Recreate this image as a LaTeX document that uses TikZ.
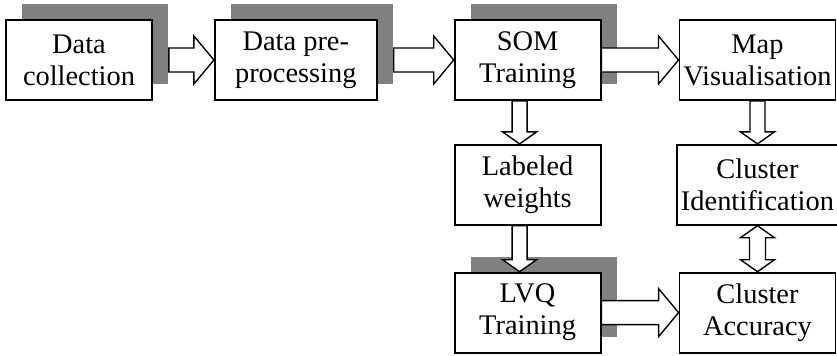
\documentclass[tikz,border=0pt]{standalone}
\usepackage{fontspec}
\setmainfont{Liberation Serif}
\usetikzlibrary{positioning, calc, shadows}
\definecolor{shadowgray}{RGB}{128,128,128}
\tikzset{box/.style={rectangle,draw,fill=white,line width=0.9pt,align=center,inner sep=2pt,minimum width=73pt,minimum height=40pt,font=\fontsize{14.2}{16}\selectfont},
shade/.style={drop shadow={shadow xshift=8pt,shadow yshift=8pt,fill=shadowgray,opacity=1}},
fatright/.style={draw,fill=white,line width=0.7pt,to path={let \p1=(\tikztostart), \p2=(\tikztotarget) in (\x1,\y1+6pt) -- (\x2-10pt,\y1+6pt) -- (\x2-10pt,\y1+12pt) -- (\x2,\y1) -- (\x2-10pt,\y1-12pt) -- (\x2-10pt,\y1-6pt) -- (\x1,\y1-6pt) -- cycle}},
fatdown/.style={draw,fill=white,line width=0.7pt,to path={let \p1=(\tikztostart), \p2=(\tikztotarget) in (\x1-3.75pt,\y1) -- (\x1-3.75pt,\y2+6pt) -- (\x1-8.5pt,\y2+6pt) -- (\x1,\y2) -- (\x1+8.5pt,\y2+6pt) -- (\x1+3.75pt,\y2+6pt) -- (\x1+3.75pt,\y1) -- cycle}},
fatboth/.style={draw,fill=white,line width=0.7pt,to path={let \p1=(\tikztostart), \p2=(\tikztotarget) in (\x1,\y1) -- (\x1-8.5pt,\y1-6pt) -- (\x1-4pt,\y1-6pt) -- (\x1-4pt,\y2+6pt) -- (\x1-8.5pt,\y2+6pt) -- (\x1,\y2) -- (\x1+8.5pt,\y2+6pt) -- (\x1+4pt,\y2+6pt) -- (\x1+4pt,\y1-6pt) -- (\x1+8.5pt,\y1-6pt) -- cycle}}}

\begin{document}
\begin{tikzpicture}
\useasboundingbox (0,0) rectangle (418.5pt,-177.5pt);
\node[box, shade] (dc) at (39.5pt,-30pt) {Data\\collection};
\node[box, shade, minimum width=81pt, right=30.5pt of dc] (dp) {Data pre-\\processing};
\node[box, shade, right=38pt of dp] (som) {SOM\\Training};
\node[box, minimum width=78pt, right=38.5pt of som] (map) {Map\\Visualisation};
\node[box, below=21.5pt of som] (lw) {Labeled\\weights};
\node[box, shade, below=23pt of lw] (lvq) {LVQ\\Training};
\node[box, minimum width=78pt, below=21.5pt of map] (ci) {Cluster\\Identification};
\node[box, minimum width=78pt, below=23pt of ci] (ca) {Cluster\\Accuracy};
\draw[fatright] ([xshift=8pt]dc.east) to (dp.west);
\draw[fatright] ([xshift=8pt]dp.east) to (som.west);
\draw[fatright] (som.east) to (map.west);
\draw[fatright] (lvq.east) to (ca.west);
\draw[fatdown] ([xshift=-4pt]som.south) to ([xshift=-4pt]lw.north);
\draw[fatdown] ([xshift=-4pt]lw.south) to ([xshift=-4pt]lvq.north);
\draw[fatdown] (map.south) to (ci.north);
\draw[fatboth] (ci.south) to (ca.north);
\end{tikzpicture}
\end{document}
